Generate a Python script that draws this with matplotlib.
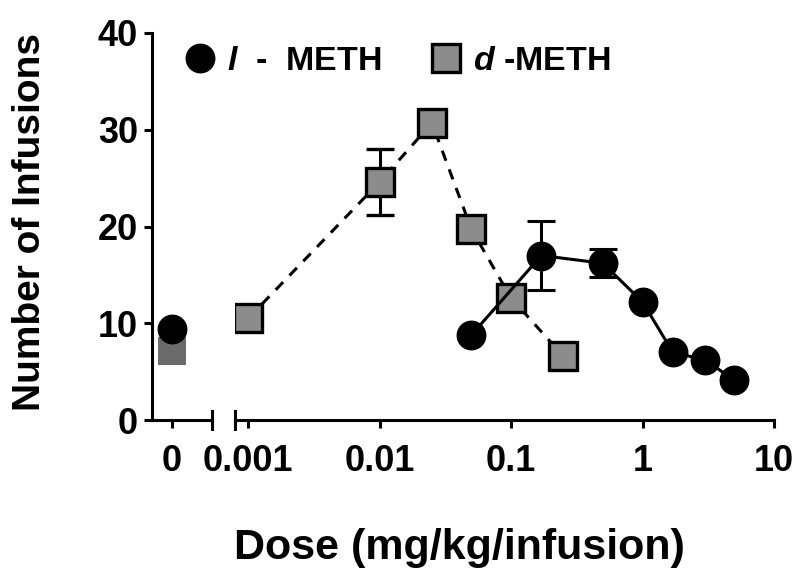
import matplotlib
matplotlib.use("Agg")
import matplotlib.pyplot as plt
from matplotlib.lines import Line2D

plt.rcParams["font.family"] = ["Liberation Sans", "DejaVu Sans"]
plt.rcParams["font.weight"] = "bold"
plt.rcParams["mathtext.fontset"] = "custom"
plt.rcParams["mathtext.it"] = "Liberation Sans:italic:bold"

# vehicle (dose 0)
veh_l = 9.4
veh_d = 7.1

# l-METH
dose_l = [0.05, 0.17, 0.5, 1.0, 1.7, 3.0, 5.0]
inf_l = [8.8, 17.0, 16.2, 12.2, 7.0, 6.2, 4.1]
sem_l = [0, 3.6, 1.45, 0, 0, 0, 0]

# d-METH
dose_d = [0.001, 0.01, 0.025, 0.05, 0.1, 0.25]
inf_d = [10.5, 24.6, 30.7, 19.7, 12.6, 6.6]
sem_d = [0, 3.4, 0, 0, 0, 0]

yticks = [0, 10, 20, 30, 40]
xticks = [0.001, 0.01, 0.1, 1, 10]
xticklabels = ["0.001", "0.01", "0.1", "1", "10"]

fig = plt.figure(figsize=(8, 5.78), dpi=100)
bot, top = 1 - 420 / 578, 1 - 33 / 578
ax0 = fig.add_axes([152 / 800, bot, (212 - 152) / 800, top - bot])
ax1 = fig.add_axes([235 / 800, bot, (774 - 235) / 800, top - bot])

lw = 2.2
grey = "#8c8c8c"

# vehicle segment
ax0.plot([0], [veh_d], "s", color="#6b6b6b", ms=20, mew=0, zorder=3)
ax0.plot([0], [veh_l], "o", color="black", ms=20.5, zorder=4)
ax0.set_xlim(-1, 2)
ax0.set_xticks([0])
ax0.set_xticklabels(["0"])

# dose-response segment
ax1.errorbar(dose_d, inf_d, yerr=sem_d, color="black", ls=(0, (3.5, 3)), lw=lw,
             marker="s", ms=20.5, mfc=grey, mec="black", mew=2.4,
             capsize=10, capthick=lw, elinewidth=lw, zorder=3)
ax1.errorbar(dose_l, inf_l, yerr=sem_l, color="black", ls="-", lw=lw,
             marker="o", ms=20.5, mfc="black", mec="black",
             capsize=10, capthick=lw, elinewidth=lw, zorder=4)
ax1.set_xscale("log")
ax1.set_xlim(10 ** (-3.1), 10)
ax1.set_xticks(xticks)
ax1.set_xticklabels(xticklabels)
ax1.minorticks_off()

for ax in (ax0, ax1):
    ax.set_ylim(0, 40)
    ax.spines["top"].set_visible(False)
    ax.spines["right"].set_visible(False)
    ax.patch.set_alpha(0)
    for s in ax.spines.values():
        s.set_linewidth(lw)
    ax.tick_params(width=lw, length=6, labelsize=26)
ax1.spines["left"].set_visible(False)
ax1.tick_params(axis="y", left=False, labelleft=False)
ax0.set_yticks(yticks)
ax0.tick_params(axis="y", pad=4)
ax0.tick_params(axis="x", pad=11)
ax1.tick_params(axis="x", pad=11)

# break caps on the x axis
for ax, xpos in ((ax0, 1.0), (ax1, 0.0)):
    ax.add_line(Line2D([xpos, xpos], [-0.022, 0.022], transform=ax.transAxes,
                       color="black", lw=lw, clip_on=False))

fig.text(30 / 800, 1 - 222 / 578, "Number of Infusions", rotation=90,
         ha="center", va="center", fontsize=28, fontweight="bold")
fig.text(459 / 800, 1 - 548 / 578, "Dose (mg/kg/infusion)",
         ha="center", va="center", fontsize=31, fontweight="bold")

handles = [
    Line2D([], [], marker="o", color="black", ls="none", ms=20.5),
    Line2D([], [], marker="s", mfc=grey, mec="black", mew=2.4, ls="none", ms=20.5),
]
labels = [r"$\mathit{l}$  -  METH", r"$\mathit{d}$ -METH"]
fig.legend(handles, labels, loc="center left", bbox_to_anchor=(169 / 800, 1 - 61 / 578),
           ncol=2, frameon=False, fontsize=24.5, handletextpad=0.3, columnspacing=1.4,
           borderaxespad=0, handlelength=1.0)

fig.savefig("out.png", dpi=100)
